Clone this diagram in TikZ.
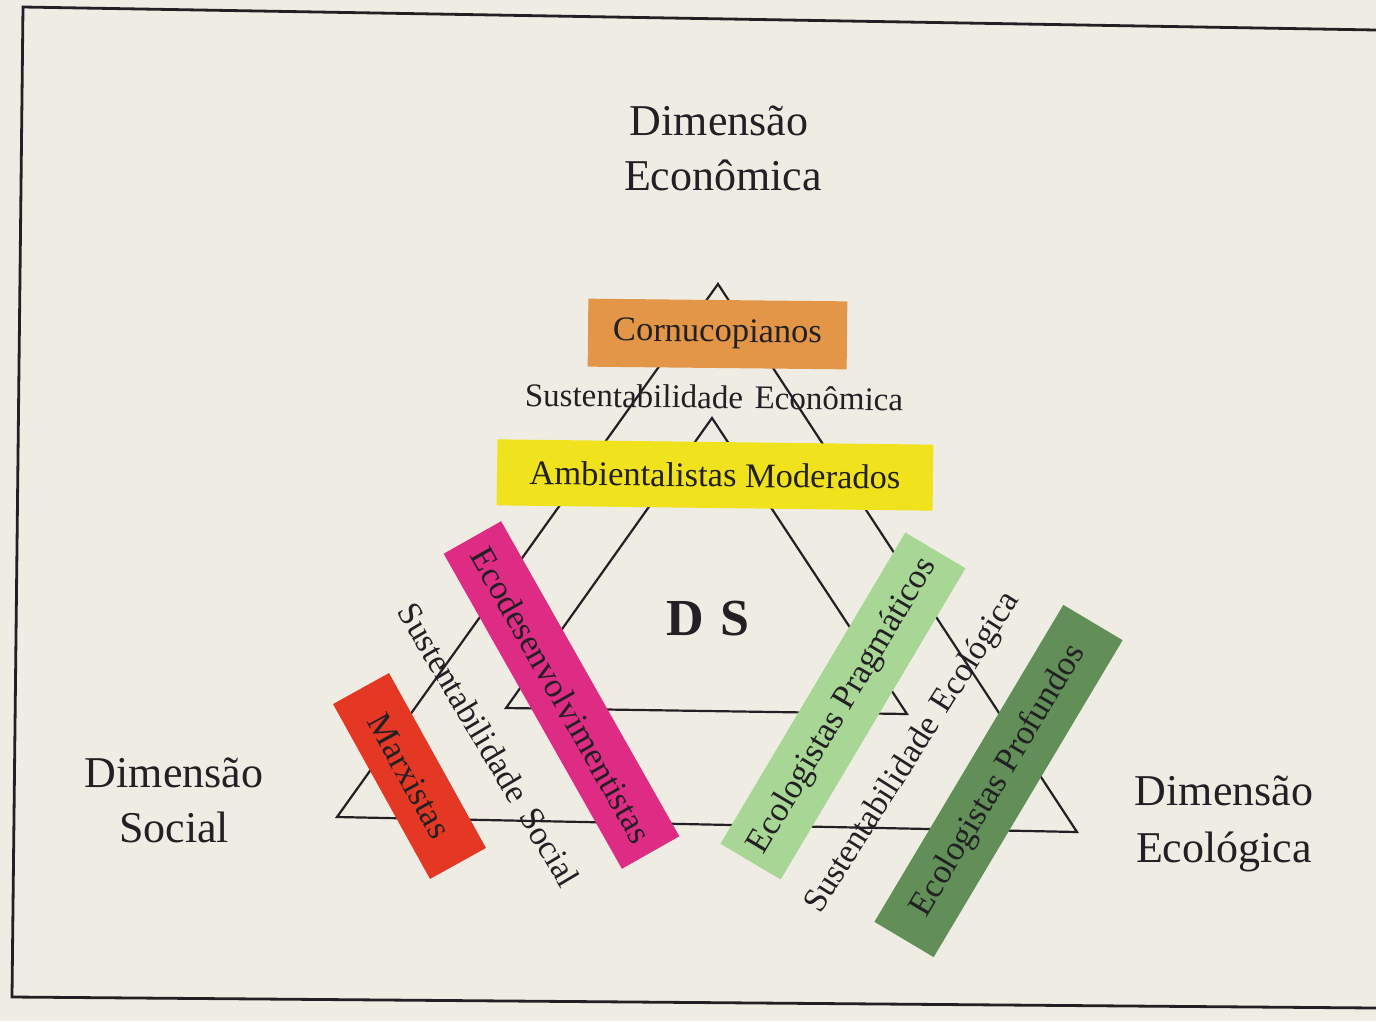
\documentclass[tikz,border=0pt]{standalone}
\usepackage{fontspec}
\setmainfont{Liberation Serif}
\definecolor{paper}{RGB}{239,237,227}
\definecolor{ink}{RGB}{34,32,36}
\definecolor{corno}{RGB}{228,150,72}
\definecolor{ambi}{RGB}{240,226,28}
\definecolor{ecod}{RGB}{222,44,132}
\definecolor{marx}{RGB}{228,56,36}
\definecolor{pragm}{RGB}{168,214,148}
\definecolor{profu}{RGB}{98,142,88}
\begin{document}
\begin{tikzpicture}[x=1pt,y=-1pt,
  tri/.style={draw=ink,line width=2.2pt,line join=miter},
  frameline/.style={draw=ink,line width=2.8pt},
  dimtext/.style={text=ink,inner sep=0pt,anchor=base,font=\fontsize{44}{50}\selectfont},
  sustext/.style={text=ink,inner sep=0pt,font=\fontsize{34}{40}\selectfont},
  grpbox/.style={draw=none,inner sep=0pt,text=ink,font=\fontsize{34.5}{40}\selectfont},
]
\useasboundingbox (0,0) rectangle (1376,1021);
\fill[paper] (0,0) rectangle (1376,1021);
% frame
\coordinate (fTL) at (23,7);
\coordinate (fTR) at (1376,30);
\coordinate (fBL) at (12,997);
\coordinate (fBR) at (1376,1008);
\draw[frameline] (fTR) -- (fTL) -- (fBL) -- (fBR);
% triangles
\coordinate (oA) at (718,284);
\coordinate (oL) at (337,817);
\coordinate (oR) at (1077,832);
\coordinate (iA) at (712,418);
\coordinate (iL) at (506,708);
\coordinate (iR) at (907,714);
\draw[tri] (oA) -- (oL) -- (oR) -- cycle;
\draw[tri] (iA) -- (iL) -- (iR) -- cycle;
% dimension labels
\node[dimtext] (econ1) at (719,135) {Dimensão};
\node[dimtext] (econ2) at (723,190) {Econômica};
\node[dimtext] (soc1) at (174,787) {Dimensão};
\node[dimtext] (soc2) at (174,842) {Social};
\node[dimtext] (eco1) at (1224,805) {Dimensão};
\node[dimtext] (eco2) at (1224,862) {Ecológica};
% group boxes
\node[grpbox,fill=corno,minimum width=259pt,minimum height=68pt,rotate=-0.6] (corn) at (717.5,334) {Cornucopianos};
\node[grpbox,fill=ambi,minimum width=436pt,minimum height=66pt,rotate=-0.7] (ambi) at (715,475) {Ambientalistas Moderados};
\node[grpbox,fill=ecod,minimum width=362pt,minimum height=66pt,rotate=-60.5] (ecod) at (561.5,695) {Ecodesenvolvimentistas};
\node[grpbox,fill=marx,minimum width=200pt,minimum height=64pt,rotate=-61] (marx) at (409.5,776) {Marxistas};
\node[grpbox,fill=pragm,minimum width=362pt,minimum height=70pt,rotate=59.3] (pragm) at (843,706) {Ecologistas Pragmáticos};
\node[grpbox,fill=profu,minimum width=369pt,minimum height=69pt,rotate=59.2] (profu) at (998.5,781) {Ecologistas Profundos};
% sustainability labels
\node[sustext,font=\fontsize{33}{40}\selectfont,rotate=-0.7] (sEcon) at (714,397) {Sustentabilidade\hspace{0.1em} Econômica};
\node[sustext,rotate=-59.3] (sSoc) at (489,745) {Sustentabilidade\hspace{0.15em} Social};
\node[sustext,rotate=57.6] (sEco) at (913,753) {Sustentabilidade\hspace{0.1em} Ecológica};
% centre
\node[text=ink,inner sep=0pt,anchor=base,font=\fontsize{52}{60}\selectfont\bfseries] (ds) at (708,635) {D\hspace{0.3em}S};
\end{tikzpicture}
\end{document}
